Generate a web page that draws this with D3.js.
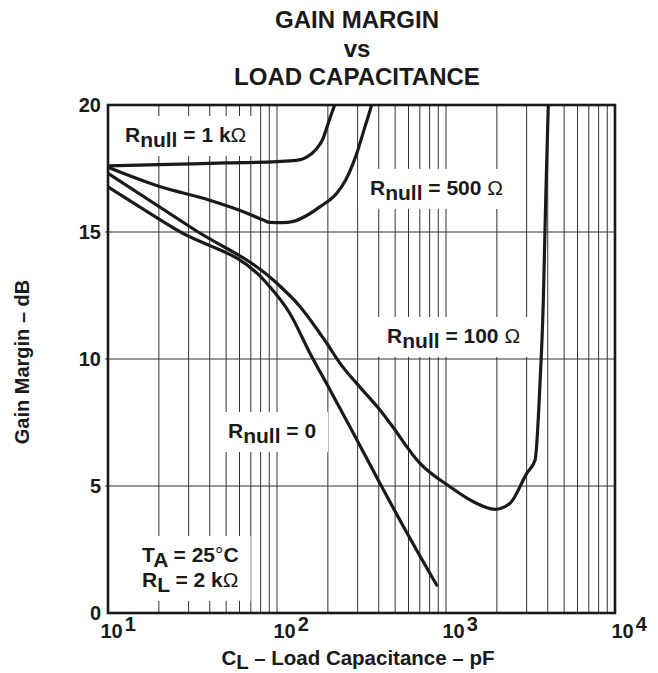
<!DOCTYPE html>
<html>
<head>
<meta charset="utf-8">
<script src="https://cdn.jsdelivr.net/npm/d3@7"></script>
<style>
  html, body { margin: 0; padding: 0; background: #fff; }
  svg { display: block; font-family: "Liberation Sans", Arial, Helvetica, sans-serif; }
</style>
</head>
<body>
<svg id="chart" width="658" height="673"></svg>
<script>
// ---------- data ----------
const titleLines = ["GAIN MARGIN", "vs", "LOAD CAPACITANCE"];
const yTicks = [0, 5, 10, 15, 20];
const xDecades = [10, 100, 1000, 10000];
const xDecadeExponents = ["1", "2", "3", "4"];

// Rnull = 1 kΩ
const cap1k = [10, 20, 50, 100, 130, 150, 170, 185, 205, 222, 235];
const gm1k  = [17.6, 17.65, 17.72, 17.77, 17.82, 17.95, 18.25, 18.6, 19.45, 20.1, 20.6];
// Rnull = 500 Ω
const cap500 = [10, 20, 40, 66, 83, 91, 108, 125, 150, 180, 225, 255, 282, 300, 330, 363, 380];
const gm500  = [17.55, 16.8, 16.25, 15.75, 15.47, 15.38, 15.37, 15.42, 15.65, 16.0, 16.52, 17.05, 17.7, 18.2, 19.1, 20.0, 20.5];
// Rnull = 100 Ω
const cap100 = [10, 32.7, 95, 137, 197, 236, 296, 407, 467, 702, 1056, 1452, 1950, 2393, 3005, 3366, 3600, 3766, 3855, 4030, 4100];
const gm100  = [17.31, 15.08, 13.11, 12.06, 10.62, 9.83, 9.04, 7.99, 7.47, 5.89, 4.97, 4.38, 4.08, 4.32, 5.5, 6.02, 9.04, 12.3, 15.15, 20.0, 21.0];
// Rnull = 0
const cap0 = [10, 25.5, 87, 119, 157, 206, 270, 407, 612, 880];
const gm0  = [16.78, 15.08, 12.98, 11.8, 10.22, 8.78, 7.33, 5.1, 2.94, 1.1];

const seriesList = [[cap1k, gm1k], [cap500, gm500], [cap100, gm100], [cap0, gm0]];

// ---------- layout ----------
const M = { left: 108, top: 105, right: 615, bottom: 613 };

const svg = d3.select("#chart");
const x = d3.scaleLog().domain([10, 10000]).range([M.left, M.right]);
const y = d3.scaleLinear().domain([0, 20]).range([M.bottom, M.top]);

svg.append("defs").append("clipPath").attr("id", "plotclip")
  .append("rect").attr("x", M.left).attr("y", M.top)
  .attr("width", M.right - M.left).attr("height", M.bottom - M.top);

// ---------- grid ----------
const minorTicks = [];
xDecades.slice(0, 3).forEach(d => { for (let i = 1; i <= 9; i++) minorTicks.push(d * i); });
const grid = svg.append("g").attr("class", "grid");
grid.selectAll("line.v").data(minorTicks.filter(v => v > 10)).join("line")
  .attr("x1", d => x(d)).attr("x2", d => x(d))
  .attr("y1", M.top).attr("y2", M.bottom)
  .attr("stroke", "#333").attr("stroke-width", 1);
grid.selectAll("line.h").data(yTicks.filter(v => v > 0 && v < 20)).join("line")
  .attr("x1", M.left - 3).attr("x2", M.right)
  .attr("y1", d => y(d)).attr("y2", d => y(d))
  .attr("stroke", "#333").attr("stroke-width", 1);

// ---------- label boxes & texts (positions in data coordinates) ----------
const labels = [
  { x: 12.6, y: 18.54, lines: [[["R", "b"], ["null", "sub"], [" = 1 k", "b"], ["Ω", "sym"]]] },
  { x: 355,  y: 16.46, lines: [[["R", "b"], ["null", "sub"], [" = 500 ", "b"], ["Ω", "sym"]]] },
  { x: 448,  y: 10.63, lines: [[["R", "b"], ["null", "sub"], [" = 100 ", "b"], ["Ω", "sym"]]] },
  { x: 51.3, y: 6.89,  lines: [[["R", "b"], ["null", "sub"], [" = 0", "b"]]] },
  { x: 15.9, y: 2.01,  lines: [[["T", "b"], ["A", "sub"], [" = 25", "b"], ["°", "sym"], ["C", "b"]],
                               [["R", "b"], ["L", "sub"], [" = 2 k", "b"], ["Ω", "sym"]]] }
];

const boxG = svg.append("g");
const curveG = svg.append("g").attr("clip-path", "url(#plotclip)");
const textG = svg.append("g");

labels.forEach(lb => {
  const g = textG.append("g");
  lb.lines.forEach((parts, li) => {
    const t = g.append("text")
      .attr("x", x(lb.x)).attr("y", y(lb.y) + li * 25)
      .attr("font-size", 21).attr("font-weight", "bold").attr("fill", "#1a1a1a");
    let shifted = false;
    parts.forEach(([s, kind]) => {
      const ts = t.append("tspan").text(s);
      if (kind === "sub") { ts.attr("dy", 5); shifted = true; }
      else if (shifted) { ts.attr("dy", -5); shifted = false; }
      if (kind === "sym") ts.attr("font-weight", "normal");
    });
  });
  const bb = g.node().getBBox();
  boxG.append("rect")
    .attr("x", bb.x - 12).attr("y", bb.y - 7)
    .attr("width", bb.width + 24).attr("height", bb.height + 12)
    .attr("fill", "#fff");
});

// ---------- curves ----------
const line = d3.line()
  .x(d => x(d[0])).y(d => y(d[1]))
  .curve(d3.curveMonotoneX);
seriesList.forEach(([cs, gs]) => {
  curveG.append("path")
    .datum(cs.map((c, i) => [c, gs[i]]))
    .attr("d", line)
    .attr("fill", "none").attr("stroke", "#1a1a1a")
    .attr("stroke-width", 3.2).attr("stroke-linejoin", "round").attr("stroke-linecap", "round");
});

// ---------- frame ----------
svg.append("rect")
  .attr("x", M.left).attr("y", M.top)
  .attr("width", M.right - M.left).attr("height", M.bottom - M.top)
  .attr("fill", "none").attr("stroke", "#1a1a1a").attr("stroke-width", 2.6);

// ---------- axes (labels) ----------
const yAxis = d3.axisLeft(y).tickValues(yTicks).tickSize(0).tickPadding(7);
const yAx = svg.append("g").attr("transform", `translate(${M.left},0)`).call(yAxis);
yAx.select(".domain").remove();
yAx.selectAll("text").attr("font-size", 20).attr("font-weight", "bold")
  .attr("fill", "#1a1a1a").attr("font-family", "Liberation Sans, Arial, sans-serif");

const xAxis = d3.axisBottom(x).tickValues(xDecades).tickSize(0).tickFormat(() => "");
const xAx = svg.append("g").attr("transform", `translate(0,${M.bottom})`).call(xAxis);
xAx.select(".domain").remove();
xAx.selectAll(".tick text").remove();
xAx.selectAll(".tick").each(function(d, i) {
  const t = d3.select(this).append("text")
    .attr("x", i === 0 ? -8 : -4).attr("y", 25)
    .attr("text-anchor", "start")
    .attr("font-size", 20).attr("font-weight", "bold").attr("fill", "#1a1a1a")
    .attr("font-family", "Liberation Sans, Arial, sans-serif");
  t.append("tspan").text("10");
  t.append("tspan").attr("dx", 2).attr("dy", -7).text(xDecadeExponents[i]);
});

// ---------- titles ----------
titleLines.forEach((s, i) => {
  svg.append("text").attr("x", 357).attr("y", [28, 57, 85][i])
    .attr("text-anchor", "middle").attr("font-size", 24).attr("font-weight", "bold")
    .attr("fill", "#1a1a1a").text(s);
});

const xl = svg.append("text").attr("x", 358).attr("y", 665)
  .attr("text-anchor", "middle").attr("font-size", 20.5).attr("font-weight", "bold").attr("fill", "#1a1a1a");
xl.append("tspan").text("C");
xl.append("tspan").attr("dy", 4).text("L");
xl.append("tspan").attr("dy", -4).text(" – Load Capacitance – pF");

svg.append("text")
  .attr("transform", "translate(29,362) rotate(-90)")
  .attr("text-anchor", "middle").attr("font-size", 20).attr("font-weight", "bold")
  .attr("fill", "#1a1a1a").text("Gain Margin – dB");
</script>
</body>
</html>
